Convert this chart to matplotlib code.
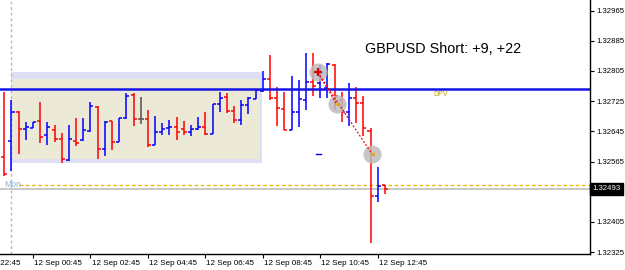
import numpy as np
import pandas as pd
import matplotlib
matplotlib.use("Agg")
import matplotlib.pyplot as plt
from matplotlib.transforms import blended_transform_factory

plt.rcParams['font.family'] = ['Liberation Sans', 'DejaVu Sans']

# GBPUSD M15, 11 Sep 23:45 -> 12 Sep 13:00
times = pd.date_range("2016-09-11 23:45", periods=54, freq="15min")

opens = [1.32577, 1.32619, 1.32696, 1.32651, 1.32655, 1.32672, 1.32635, 1.32649, 1.32625, 1.32569,
         1.32619, 1.32622, 1.32646, 1.32709, 1.32598, 1.32672, 1.32617, 1.32680, 1.32741, 1.32677,
         1.32678, 1.32609, 1.32643, 1.32654, 1.32656, 1.32651, 1.32643, 1.32651, 1.32656, 1.32638,
         1.32717, 1.32736, 1.32699, 1.32675, 1.32715, 1.32732, 1.32752, 1.32784, 1.32733, 1.32704,
         1.32649, 1.32696, 1.32728, 1.32776, 1.32773, 1.32760, 1.32821, 1.32728, 1.32696, 1.32733,
         1.32720, 1.32646, 1.32474, 1.32502]
highs = [1.32748, 1.32728, 1.32699, 1.32670, 1.32669, 1.32723, 1.32670, 1.32662, 1.32641, 1.32662,
         1.32680, 1.32680, 1.32723, 1.32712, 1.32672, 1.32672, 1.32681, 1.32747, 1.32747, 1.32736,
         1.32702, 1.32686, 1.32667, 1.32675, 1.32683, 1.32672, 1.32662, 1.32683, 1.32696, 1.32717,
         1.32749, 1.32747, 1.32712, 1.32728, 1.32736, 1.32758, 1.32804, 1.32847, 1.32762, 1.32749,
         1.32792, 1.32781, 1.32853, 1.32853, 1.32821, 1.32826, 1.32823, 1.32749, 1.32773, 1.32762,
         1.32739, 1.32654, 1.32550, 1.32503]
lows = [1.32527, 1.32540, 1.32585, 1.32622, 1.32655, 1.32614, 1.32609, 1.32617, 1.32561, 1.32566,
        1.32606, 1.32619, 1.32644, 1.32572, 1.32580, 1.32596, 1.32616, 1.32679, 1.32659, 1.32664,
        1.32603, 1.32609, 1.32635, 1.32635, 1.32622, 1.32635, 1.32633, 1.32649, 1.32635, 1.32638,
        1.32696, 1.32694, 1.32667, 1.32662, 1.32691, 1.32731, 1.32749, 1.32728, 1.32659, 1.32649,
        1.32649, 1.32656, 1.32702, 1.32739, 1.32733, 1.32733, 1.32702, 1.32670, 1.32659, 1.32667,
        1.32633, 1.32349, 1.32458, 1.32479]
closes = [1.32532, 1.32696, 1.32651, 1.32656, 1.32669, 1.32630, 1.32656, 1.32625, 1.32572, 1.32625,
          1.32614, 1.32649, 1.32712, 1.32598, 1.32670, 1.32617, 1.32680, 1.32739, 1.32678, 1.32677,
          1.32609, 1.32643, 1.32651, 1.32656, 1.32643, 1.32643, 1.32651, 1.32656, 1.32638, 1.32717,
          1.32734, 1.32699, 1.32675, 1.32715, 1.32733, 1.32755, 1.32784, 1.32733, 1.32707, 1.32649,
          1.32696, 1.32731, 1.32776, 1.32765, 1.32800, 1.32823, 1.32739, 1.32696, 1.32733, 1.32720,
          1.32654, 1.32474, 1.32500, 1.32493]

# levels / objects on the chart
dpv_level = 1.32757
yellow_level = 1.32503
box_top, box_bottom = 1.32802, 1.32562
box_start, box_end = "2016-09-12 00:00", "2016-09-12 08:45"

# trade: short entry and two exits
entry_time, entry_price = "2016-09-12 10:40", 1.32801
exit_times = ["2016-09-12 11:19", "2016-09-12 12:33"]
exit_prices = [1.32717, 1.32585]
title = "GBPUSD Short: +9, +22"

ytick_vals = [1.32325, 1.32405, 1.32485, 1.32565, 1.32645, 1.32725, 1.32805, 1.32885, 1.32965]
xtick_times = ["2016-09-11 22:45", "2016-09-12 00:45", "2016-09-12 02:45", "2016-09-12 04:45",
               "2016-09-12 06:45", "2016-09-12 08:45", "2016-09-12 10:45", "2016-09-12 12:45"]


def pos(t):
    # bar index of a timestamp (fractional allowed)
    return (pd.Timestamp(t) - times[0]) / pd.Timedelta("15min")


fig = plt.figure(figsize=(6.25, 2.7), dpi=100)
ax = fig.add_axes([0, 16 / 270, 590 / 625, 254 / 270])
ax.set_xlim(-0.6, 81.57)
ax.set_ylim(1.32320, 1.32993)

# session box
x0, x1 = pos(box_start) - 0.05, pos(box_end) - 0.1
ax.fill_between([x0, x1], box_bottom, box_top, color='#DEDEF5', lw=0, zorder=1)
ax.fill_between([x0, x1 - 0.25], box_bottom + 0.00010, box_top - 0.00018, color='#ECEAD6', lw=0, zorder=1)

# monday separator
ax.axvline(pos("2016-09-12 00:00") - 0.05, color='#B8B8B8', lw=1, ls=(0, (2, 2)), zorder=1.5)
ax.text(-0.05, 1.32505, "Mon", color='#86B4DE', fontsize=6.2, va='center', ha='left', zorder=2)

# bid line and yellow dashed line
ax.axhline(closes[-1], color='#C4C4C4', lw=1.3, zorder=1.5)
ax.plot([pos("2016-09-12 00:15"), 81.57], [yellow_level, yellow_level], color='#E8B400',
        lw=0.9, ls=(0, (3, 2)), zorder=1.6)

# OHLC bars
x = np.arange(len(opens))
for i in x:
    o, h, l, c = opens[i], highs[i], lows[i], closes[i]
    if c > o:
        col = '#0000FF'
    elif c < o:
        col = '#FF0000'
    else:
        col = '#505050'
    ax.plot([i, i], [l, h], color=col, lw=1.1, zorder=3, solid_capstyle='butt')
    ax.plot([i - 0.42, i], [o, o], color=col, lw=1.1, zorder=3, solid_capstyle='butt')
    ax.plot([i, i + 0.42], [c, c], color=col, lw=1.1, zorder=3, solid_capstyle='butt')

# DPV line
ax.axhline(dpv_level, color='#1414E6', lw=1.8, zorder=4)
ax.text(60.7, dpv_level - 0.00004, "DPV", color='#C8A000',
        fontsize=5, va='top', ha='center', zorder=4)

# trade markers
ex = pos(entry_time)
for t, p in zip(exit_times, exit_prices):
    ax.plot([ex, pos(t)], [entry_price, p], color='#FF0000', lw=0.9, ls=(0, (1.5, 1.5)), zorder=6)
ax.scatter([ex] + [pos(t) for t in exit_times], [entry_price] + exit_prices,
           s=170, color='#BCBCBC', alpha=0.85, lw=0, zorder=5)
ax.scatter([ex], [entry_price], marker='+', s=30, color='#E00000', linewidths=1.6, zorder=7)
ax.scatter([pos(t) for t in exit_times], exit_prices, marker='<', s=10, color='#F0A000', lw=0, zorder=7)
ax.plot([ex - 0.3, ex + 0.5], [exit_prices[1], exit_prices[1]], color='#0000FF', lw=1, zorder=4)

ax.text(50.2, 1.32863, title, fontsize=10.4, color='black',
        ha='left', va='center', zorder=8)

# axes look
for s in ['left', 'top']:
    ax.spines[s].set_visible(False)
for s in ['right', 'bottom']:
    ax.spines[s].set_color('black')
    ax.spines[s].set_linewidth(1)
ax.yaxis.tick_right()
ax.set_yticks(ytick_vals)
ax.set_yticklabels(["%.5f" % v for v in ytick_vals])
ax.tick_params(axis='y', direction='out', length=3, width=0.8, labelsize=5.6, pad=1.5)

tick_pos = [pos(t) for t in xtick_times]
tick_lbl = [pd.Timestamp(t).strftime("%d Sep %H:%M").lstrip("0") for t in xtick_times]
ax.set_xticks(tick_pos[1:])
ax.set_xticklabels([""] * (len(tick_pos) - 1))
ax.tick_params(axis='x', direction='out', length=3, width=0.8)
trans = blended_transform_factory(ax.transData, ax.transAxes)
# first label is only partly visible at the left edge
ax.text(2.32, -0.025, tick_lbl[0], transform=trans, fontsize=5.8, ha='right', va='top', clip_on=False)
for p, lbl in zip(tick_pos[1:], tick_lbl[1:]):
    ax.text(p + 0.15, -0.025, lbl, transform=trans, fontsize=5.8, ha='left', va='top', clip_on=False)

# current price box
ytrans = blended_transform_factory(ax.transAxes, ax.transData)
ax.text(1.004, closes[-1], "%.5f" % closes[-1], transform=ytrans, color='white', fontsize=5.6,
        ha='left', va='center', zorder=10, clip_on=False,
        bbox=dict(boxstyle='square,pad=0.3', fc='black', ec='black'))

fig.savefig("out.png", dpi=100)
